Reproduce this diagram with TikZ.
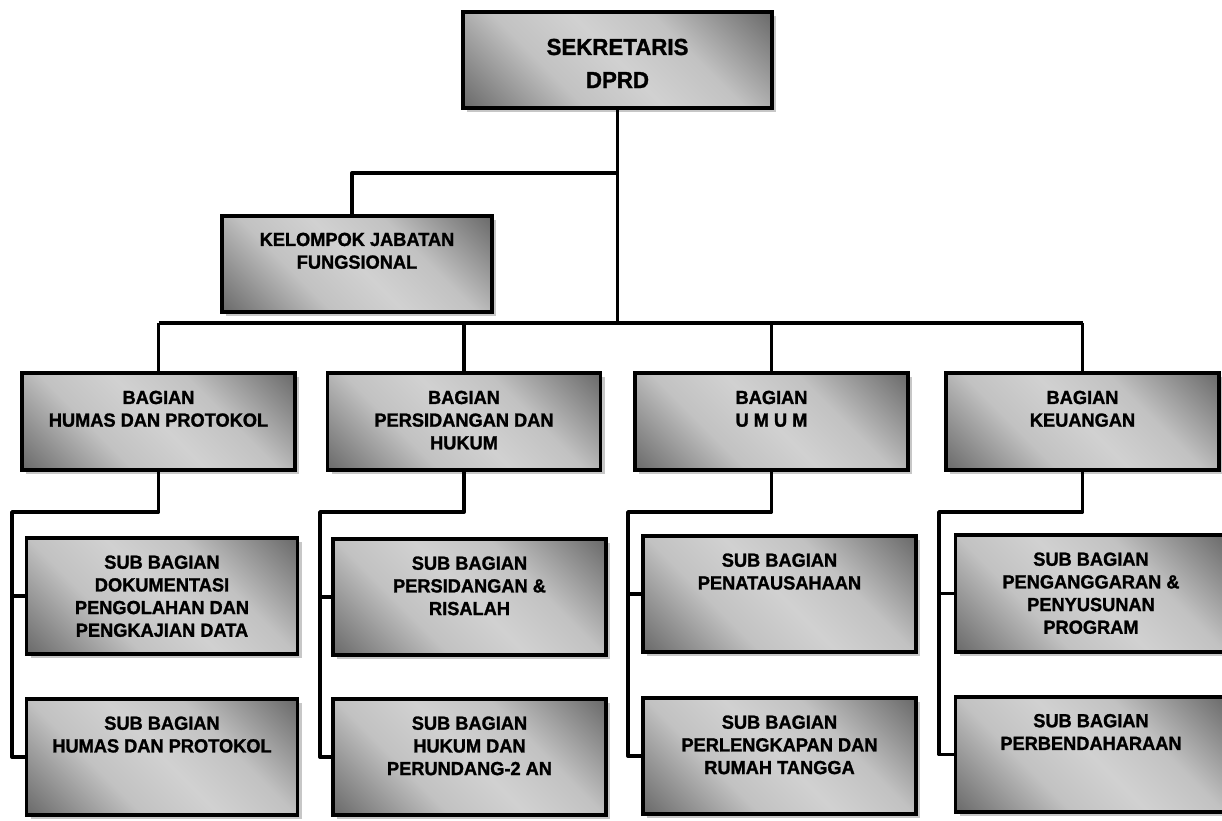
\documentclass[tikz,border=0pt]{standalone}
\usepackage{fontspec}
\setmainfont{Liberation Sans}
\newfontfamily\heavyfam{Liberation Sans Bold}[FakeBold=1.3, FakeStretch=0.96]
\usepackage{tikz}
\usetikzlibrary{positioning}
\usetikzlibrary{shadows}

\pgfdeclareverticalshading{boxshade}{100bp}{color(0bp)=(black!58); color(15bp)=(black!58); color(36bp)=(black!24); color(50bp)=(black!18); color(64bp)=(black!24); color(85bp)=(black!58); color(100bp)=(black!58)}

\newcommand{\boxlines}[4]{\parbox[c][#1][t]{#2}{\centering\rule{0pt}{#3}#4}}
\newcommand{\topfont}{\heavyfam\fontsize{13.2pt}{18.8pt}\selectfont}
\newcommand{\orgfont}{\heavyfam\fontsize{10.8pt}{12.9pt}\selectfont}

\tikzset{
orgbox/.style={draw, line width=2.2pt, shade, shading=boxshade, shading angle=-45, inner sep=0pt,
  general shadow={fill=black!22, shadow xshift=0.08cm, shadow yshift=-0.08cm}},
conn/.style={line width=2.2pt, line join=round}
}

\begin{document}
\begin{tikzpicture}[scale=1]

\useasboundingbox (0,0) rectangle (24.44,16.42);

%top
\node[orgbox] (sek) at (12.35,15.22) {\boxlines{1.92cm}{6.18cm}{0.86cm}{\topfont SEKRETARIS\\DPRD}};
\node[orgbox] (kel) at (7.14,11.14) {\boxlines{1.92cm}{5.4cm}{0.6cm}{\orgfont KELOMPOK JABATAN\\FUNGSIONAL}};

%bagian
\node[orgbox] (bag1) at (3.17,7.99) {\boxlines{1.94cm}{5.46cm}{0.62cm}{\orgfont BAGIAN\\HUMAS DAN PROTOKOL}};
\node[orgbox] (bag2) at (9.28,7.99) {\boxlines{1.94cm}{5.46cm}{0.62cm}{\orgfont BAGIAN\\PERSIDANGAN DAN\\HUKUM}};
\node[orgbox] (bag3) at (15.43,7.99) {\boxlines{1.94cm}{5.46cm}{0.62cm}{\orgfont BAGIAN\\U M U M}};
\node[orgbox] (bag4) at (21.65,7.99) {\boxlines{1.94cm}{5.46cm}{0.62cm}{\orgfont BAGIAN\\KEUANGAN}};

%sub bagian
\node[orgbox] (up1) at (3.24,4.5) {\boxlines{2.31cm}{5.42cm}{0.61cm}{\orgfont SUB BAGIAN\\DOKUMENTASI\\PENGOLAHAN DAN\\PENGKAJIAN DATA}};
\node[orgbox] (low1) at (3.24,1.28) {\boxlines{2.31cm}{5.42cm}{0.61cm}{\orgfont SUB BAGIAN\\HUMAS DAN PROTOKOL}};
\node[orgbox] (up2) at (9.39,4.48) {\boxlines{2.31cm}{5.46cm}{0.61cm}{\orgfont SUB BAGIAN\\PERSIDANGAN \&\\RISALAH}};
\node[orgbox] (low2) at (9.39,1.28) {\boxlines{2.31cm}{5.46cm}{0.61cm}{\orgfont SUB BAGIAN\\HUKUM DAN\\PERUNDANG-2 AN}};
\node[orgbox] (up3) at (15.59,4.54) {\boxlines{2.31cm}{5.46cm}{0.61cm}{\orgfont SUB BAGIAN\\PENATAUSAHAAN}};
\node[orgbox] (low3) at (15.59,1.3) {\boxlines{2.31cm}{5.46cm}{0.61cm}{\orgfont SUB BAGIAN\\PERLENGKAPAN DAN\\RUMAH TANGGA}};
\node[orgbox] (up4) at (21.82,4.55) {\boxlines{2.33cm}{5.42cm}{0.61cm}{\orgfont SUB BAGIAN\\PENGANGGARAN \&\\PENYUSUNAN\\PROGRAM}};
\node[orgbox] (low4) at (21.82,1.33) {\boxlines{2.31cm}{5.42cm}{0.61cm}{\orgfont SUB BAGIAN\\PERBENDAHARAAN}};

%lines
\coordinate (bus) at (12.36,9.96);
\coordinate (kj) at (7.04,12.96);
\draw[conn] (sek.south) -- (sek.south |- bus);
\draw[conn] (sek.south |- kj) -- (kj) -- (kj |- kel.north);
\draw[conn] (bag1.north |- bus) -- (bag4.north |- bus);
\foreach \i in {1,...,4} \draw[conn] (bag\i.north |- bus) -- (bag\i.north);

\foreach \i/\x in {1/0.24, 2/6.40, 3/12.56, 4/18.78}
{
\draw[conn] (bag\i.south) |- (\x,6.18) |- (low\i.west);
\draw[conn] (\x,6.18 |- up\i.west) -- (up\i.west);
}

\end{tikzpicture}
\end{document}
